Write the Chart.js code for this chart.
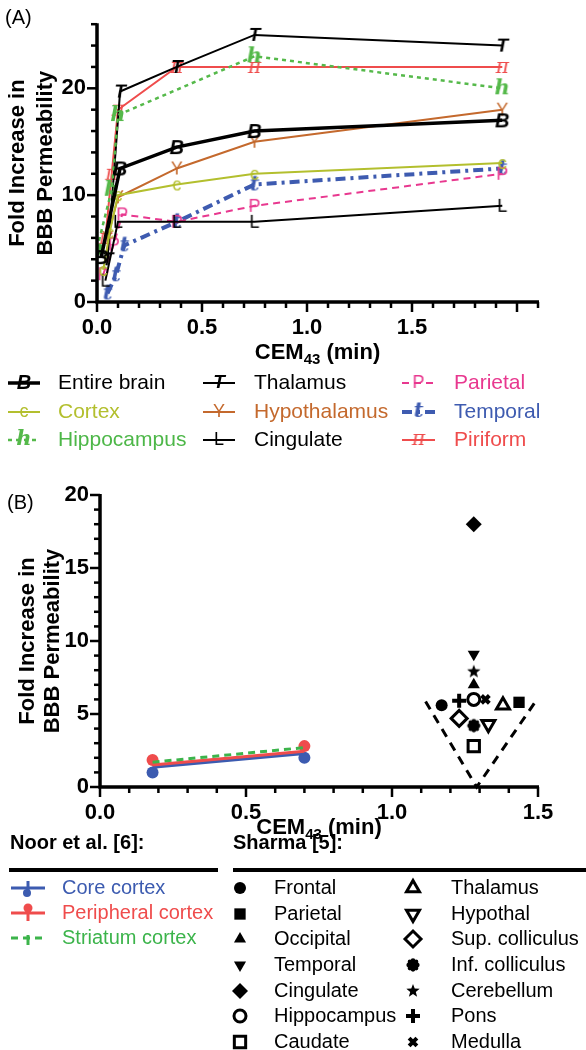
<!DOCTYPE html>
<html>
<head>
<meta charset="utf-8">
<script src="https://cdn.jsdelivr.net/npm/chart.js@4.4.1/dist/chart.umd.min.js"></script>
<style>
  html, body { margin: 0; padding: 0; background: #fff; }
  #wrap { position: relative; width: 586px; height: 1050px; overflow: hidden; }
  #wrap canvas { position: absolute; left: 0; top: 0; }
</style>
</head>
<body>
<div id="wrap">
  <canvas id="chartA" width="586" height="1050"></canvas>
  <canvas id="chartB" width="586" height="1050"></canvas>
</div>
<script>
// ---------- Panel (A) data: fold increase vs CEM43 (min) ----------
const brainX = [0.02, 0.11, 0.38, 0.75, 1.93];
const brainY = [4.2, 12.5, 14.5, 16, 17];
const cortexX = [0.03, 0.06, 0.1, 0.38, 0.75, 1.93];
const cortexY = [3, 6.5, 10, 11, 12, 13];
const hippoX = [0.0, 0.07, 0.1, 0.75, 1.93];
const hippoY = [5, 10.5, 17.5, 23, 20];
const thalX = [0.05, 0.11, 0.38, 0.75, 1.93];
const thalY = [4, 19.7, 22, 25, 24];
const hypoX = [0.05, 0.1, 0.38, 0.75, 1.93];
const hypoY = [6, 9.8, 12.5, 15, 18];
const cingX = [0.04, 0.1, 0.38, 0.75, 1.93];
const cingY = [2, 7.5, 7.5, 7.5, 9];
const parX = [0.03, 0.08, 0.12, 0.38, 0.75, 1.93];
const parY = [2.6, 5.4, 8.2, 7.5, 9, 12];
const tempX = [0.05, 0.09, 0.13, 0.38, 0.75, 1.93];
const tempY = [0.8, 2.5, 5.3, 7.5, 11, 12.5];
const pirX = [0.04, 0.07, 0.1, 0.38, 0.75, 1.93];
const pirY = [6, 12, 18, 22, 22, 22];

// ---------- Panel (B) data ----------
const noorLabels = ["Core cortex", "Peripheral cortex", "Striatum cortex"];
const noorX = [0.18, 0.7];
const coreY = [1.35, 2.3];
const periY = [1.5, 2.45];
const striY = [1.7, 2.7];
const coreLow = [1.0, 2.0];    // lower error bar ends
const periHigh = [1.85, 2.8];  // upper error bar ends

const sharmaLabels = ["Frontal", "Parietal", "Occipital", "Temporal", "Cingulate", "Hippocampus", "Caudate",
  "Thalamus", "Hypothal", "Sup. colliculus", "Inf. colliculus", "Cerebellum", "Pons", "Medulla"];
const sharmaX = [1.17, 1.435, 1.28, 1.28, 1.28, 1.28, 1.28, 1.38, 1.33, 1.23, 1.28, 1.28, 1.23, 1.32];
const sharmaY = [5.6, 5.8, 7.0, 9.1, 18, 6.0, 2.8, 5.6, 4.3, 4.7, 4.2, 7.9, 5.9, 6.0];

const vLineX = [1.115, 1.29, 1.5];
const vLineY = [5.85, 0, 6.1];

const FONT = '"Liberation Sans", Arial, sans-serif';

// small canvas with a letter, used as a point marker
function glyph(ch, color, font) {
  const c = document.createElement("canvas");
  c.width = 26; c.height = 26;
  const g = c.getContext("2d");
  g.fillStyle = color;
  g.font = font;
  g.textAlign = "center";
  g.textBaseline = "middle";
  g.fillText(ch, 13, 14);
  return c;
}

function pts(xs, ys) {
  return xs.map((x, i) => ({ x: x, y: ys[i] }));
}

const seriesA = [
  { label: "Entire brain", x: brainX, y: brainY, color: "#000", text: "#000", width: 3.5, dash: [], ch: "B", font: "italic bold 20px " + FONT },
  { label: "Cortex", x: cortexX, y: cortexY, color: "#b3bf2e", text: "#b3bf2e", width: 2, dash: [], ch: "c", font: "18px " + FONT },
  { label: "Hippocampus", x: hippoX, y: hippoY, color: "#55b94a", text: "#4db748", width: 2.5, dash: [4, 4], ch: "h", font: "italic bold 21px 'DejaVu Serif'" },
  { label: "Thalamus", x: thalX, y: thalY, color: "#000", text: "#000", width: 2, dash: [], ch: "T", font: "italic bold 19px " + FONT },
  { label: "Hypothalamus", x: hypoX, y: hypoY, color: "#c4692d", text: "#c4692d", width: 2, dash: [], ch: "Y", font: "18px " + FONT },
  { label: "Cingulate", x: cingX, y: cingY, color: "#000", text: "#000", width: 2, dash: [], ch: "L", font: "18px " + FONT },
  { label: "Parietal", x: parX, y: parY, color: "#e8388f", text: "#e8388f", width: 2, dash: [7, 5], ch: "P", font: "18px " + FONT },
  { label: "Temporal", x: tempX, y: tempY, color: "#3e5bb0", text: "#3e5bb0", width: 4, dash: [10, 5, 3, 5], ch: "t", font: "italic bold 21px 'DejaVu Serif'" },
  { label: "Piriform", x: pirX, y: pirY, color: "#ef4c4c", text: "#ef4c4c", width: 2, dash: [], ch: "\u03c0", font: "italic 20px 'DejaVu Serif'" }
];
seriesA.forEach(s => { s.img = glyph(s.ch, s.color, s.font); });

// draws axis lines and major/minor tick marks from the chart's scales
function drawAxes(chart, xStep, xMajor, yStep, yMajor) {
  const ctx = chart.ctx, a = chart.chartArea, xs = chart.scales.x, ys = chart.scales.y;
  ctx.save();
  ctx.strokeStyle = "#000";
  ctx.lineWidth = 2.5;
  const nx = Math.round((xs.max - xs.min) / xStep);
  for (let i = 0; i <= nx; i++) {
    const v = xs.min + i * xStep;
    const major = Math.abs(v / xMajor - Math.round(v / xMajor)) < 1e-6;
    const px = xs.getPixelForValue(v);
    ctx.beginPath(); ctx.moveTo(px, a.bottom); ctx.lineTo(px, a.bottom + (major ? 10 : 6)); ctx.stroke();
  }
  const ny = Math.round((ys.max - ys.min) / yStep);
  for (let i = 0; i <= ny; i++) {
    const v = ys.min + i * yStep;
    const major = Math.abs(v / yMajor - Math.round(v / yMajor)) < 1e-6;
    const py = ys.getPixelForValue(v);
    ctx.beginPath(); ctx.moveTo(a.left, py); ctx.lineTo(a.left - (major ? 10 : 6), py); ctx.stroke();
  }
  ctx.lineWidth = 3.5;
  ctx.beginPath();
  ctx.moveTo(a.left, a.top - 1);
  ctx.lineTo(a.left, a.bottom);
  ctx.lineTo(a.right + 1, a.bottom);
  ctx.stroke();
  ctx.restore();
}

function drawYTitle(ctx, x1, x2, cy) {
  ctx.save();
  ctx.fillStyle = "#000";
  ctx.font = "bold 22px " + FONT;
  ctx.textAlign = "center";
  ctx.textBaseline = "middle";
  [["Fold Increase in", x1], ["BBB Permeability", x2]].forEach(([t, x]) => {
    ctx.save(); ctx.translate(x, cy); ctx.rotate(-Math.PI / 2); ctx.fillText(t, 0, 0); ctx.restore();
  });
  ctx.restore();
}

function drawCem(ctx, cx, cy) {
  const big = "bold 22px " + FONT, small = "bold 15px " + FONT;
  ctx.save();
  ctx.fillStyle = "#000";
  ctx.textAlign = "left";
  ctx.textBaseline = "alphabetic";
  ctx.font = big;
  const w1 = ctx.measureText("CEM").width, w3 = ctx.measureText(" (min)").width;
  ctx.font = small;
  const w2 = ctx.measureText("43").width;
  const x0 = cx - (w1 + w2 + w3) / 2;
  ctx.font = big; ctx.fillText("CEM", x0, cy + 8);
  ctx.font = small; ctx.fillText("43", x0 + w1, cy + 13);
  ctx.font = big; ctx.fillText(" (min)", x0 + w1 + w2, cy + 8);
  ctx.restore();
}

const tickFont = { family: FONT, size: 22, weight: "bold" };

// ---------- Chart A ----------
const panelA = {
  id: "panelA",
  afterDraw(chart) {
    const ctx = chart.ctx;
    drawAxes(chart, 0.1, 0.5, 2, 10);
    drawYTitle(ctx, 18, 46, (chart.chartArea.top + chart.chartArea.bottom) / 2);
    drawCem(ctx, (chart.chartArea.left + chart.chartArea.right) / 2, 351);
    ctx.save();
    ctx.fillStyle = "#000";
    ctx.font = "20px " + FONT;
    ctx.textBaseline = "middle";
    ctx.fillText("(A)", 5, 18);
    // legend
    const cols = [{ m0: 8, m1: 40, t: 58 }, { m0: 203, m1: 235, t: 254 }, { m0: 402, m1: 435, t: 454 }];
    const rows = [383, 412, 440];
    ctx.font = "21px " + FONT;
    seriesA.forEach((s, i) => {
      const c = cols[Math.floor(i / 3)], y = rows[i % 3];
      ctx.strokeStyle = s.color;
      ctx.lineWidth = s.width;
      ctx.setLineDash(s.dash);
      ctx.beginPath(); ctx.moveTo(c.m0, y); ctx.lineTo(c.m1, y); ctx.stroke();
      ctx.setLineDash([]);
      ctx.drawImage(s.img, (c.m0 + c.m1) / 2 - 13, y - 14);
      ctx.fillStyle = s.text;
      ctx.fillText(s.label, c.t, y);
    });
    ctx.restore();
  }
};

new Chart(document.getElementById("chartA"), {
  type: "line",
  data: {
    datasets: seriesA.map(s => ({
      label: s.label,
      data: pts(s.x, s.y),
      borderColor: s.color,
      borderWidth: s.width,
      borderDash: s.dash,
      pointStyle: s.img,
      pointRadius: 4,
      fill: false,
      tension: 0
    }))
  },
  options: {
    responsive: false,
    animation: false,
    devicePixelRatio: 1,
    layout: { padding: { left: 0, right: 48, top: 5, bottom: 1050 - 302 - 40 } },
    plugins: { legend: { display: false }, tooltip: { enabled: false } },
    scales: {
      x: {
        type: "linear", min: 0, max: 2.1,
        grid: { display: false, drawTicks: false }, border: { display: false },
        ticks: { stepSize: 0.5, padding: 13, color: "#000", font: tickFont, maxRotation: 0,
          callback: v => (Math.abs(v * 2 - Math.round(v * 2)) < 1e-6 ? v.toFixed(1) : null) },
        afterFit: s => { s.height = 40; }
      },
      y: {
        min: 0, max: 26,
        grid: { display: false, drawTicks: false }, border: { display: false },
        ticks: { stepSize: 10, padding: 11, color: "#000", font: tickFont,
          callback: v => (v % 10 === 0 ? v : null) },
        afterFit: s => { s.width = 97; }
      }
    }
  },
  plugins: [panelA]
});

// ---------- Chart B ----------
function star(r, color) {
  const c = document.createElement("canvas");
  c.width = 2 * r + 2; c.height = 2 * r + 2;
  const g = c.getContext("2d");
  g.fillStyle = color;
  g.beginPath();
  for (let i = 0; i < 10; i++) {
    const rr = i % 2 ? r * 0.42 : r;
    const ang = -Math.PI / 2 + i * Math.PI / 5;
    g.lineTo(r + 1 + rr * Math.cos(ang), r + 1 + rr * Math.sin(ang));
  }
  g.closePath(); g.fill();
  return c;
}
function blob(r, color) {
  const c = document.createElement("canvas");
  c.width = 2 * r + 4; c.height = 2 * r + 4;
  const g = c.getContext("2d");
  g.fillStyle = color;
  const m = r + 2;
  g.beginPath(); g.arc(m, m, r * 0.7, 0, Math.PI * 2); g.fill();
  for (let i = 0; i < 8; i++) {
    const ang = i * Math.PI / 4;
    g.beginPath(); g.arc(m + r * 0.62 * Math.cos(ang), m + r * 0.62 * Math.sin(ang), r * 0.33, 0, Math.PI * 2); g.fill();
  }
  return c;
}

// marker styles for the Sharma regions, in the same order as sharmaLabels
const sharmaStyles = [
  { ps: "circle", r: 6, fill: "#000", bw: 0 },
  { ps: "rect", r: 8, fill: "#000", bw: 0 },
  { ps: "triangle", r: 7, fill: "#000", bw: 0 },
  { ps: "triangle", r: 7, fill: "#000", bw: 0, rot: 180 },
  { ps: "rectRot", r: 8, fill: "#000", bw: 0 },
  { ps: "circle", r: 6, fill: "#fff", bw: 3 },
  { ps: "rect", r: 8, fill: "#fff", bw: 3 },
  { ps: "triangle", r: 7.5, fill: "#fff", bw: 3 },
  { ps: "triangle", r: 7.5, fill: "#fff", bw: 3, rot: 180 },
  { ps: "rectRot", r: 8, fill: "#fff", bw: 3 },
  { ps: blob(7, "#000"), r: 7, fill: "#000", bw: 0 },
  { ps: star(7, "#000"), r: 7, fill: "#000", bw: 0 },
  { ps: "cross", r: 7, fill: "#000", bw: 4 },
  { ps: "crossRot", r: 5.5, fill: "#000", bw: 4 }
];

const noorColors = ["#3c5bb0", "#ef4c4c", "#3cb44b"];

const panelB = {
  id: "panelB",
  beforeDatasetsDraw(chart) {
    // error bars for the Noor et al. data
    const ctx = chart.ctx, xs = chart.scales.x, ys = chart.scales.y;
    ctx.save();
    ctx.lineWidth = 3;
    noorX.forEach((x, i) => {
      const px = xs.getPixelForValue(x);
      [[coreY, coreLow, noorColors[0]], [periY, periHigh, noorColors[1]]].forEach(([mid, end, col]) => {
        ctx.strokeStyle = col; ctx.fillStyle = col;
        ctx.beginPath(); ctx.moveTo(px, ys.getPixelForValue(mid[i])); ctx.lineTo(px, ys.getPixelForValue(end[i])); ctx.stroke();
        ctx.beginPath(); ctx.arc(px, ys.getPixelForValue(end[i]), 6, 0, Math.PI * 2); ctx.fill();
      });
    });
    ctx.restore();
  },
  afterDraw(chart) {
    const ctx = chart.ctx;
    drawAxes(chart, 0.1, 0.5, 1, 5);
    drawYTitle(ctx, 28, 53, (chart.chartArea.top + chart.chartArea.bottom) / 2);
    drawCem(ctx, (chart.chartArea.left + chart.chartArea.right) / 2, 826);
    ctx.save();
    ctx.fillStyle = "#000";
    ctx.textBaseline = "middle";
    ctx.font = "20px " + FONT;
    ctx.fillText("(B)", 7, 503);
    // legend headers
    ctx.font = "bold 20px " + FONT;
    ctx.fillText("Noor et al. [6]:", 10, 843);
    ctx.fillText("Sharma [5]:", 233, 843);
    ctx.fillRect(9, 868, 209, 4);
    ctx.fillRect(233, 868, 353, 4);
    // Noor entries
    const nRows = [888, 913, 938];
    ctx.font = "20px " + FONT;
    noorLabels.forEach((lab, i) => {
      const y = nRows[i], col = noorColors[i];
      ctx.strokeStyle = col; ctx.fillStyle = col; ctx.lineWidth = 3;
      ctx.setLineDash(i === 2 ? [7, 5] : []);
      ctx.beginPath(); ctx.moveTo(11, y); ctx.lineTo(45, y); ctx.stroke();
      ctx.setLineDash([]);
      ctx.beginPath();
      if (i === 0) { ctx.moveTo(28, y - 7); ctx.lineTo(28, y + 4); ctx.stroke(); ctx.beginPath(); ctx.arc(27, y + 5, 4, 0, Math.PI * 2); ctx.fill(); }
      if (i === 1) { ctx.moveTo(28, y - 4); ctx.lineTo(28, y + 8); ctx.stroke(); ctx.beginPath(); ctx.arc(28, y - 5, 4.5, 0, Math.PI * 2); ctx.fill(); }
      if (i === 2) { ctx.moveTo(28, y - 3); ctx.lineTo(28, y + 7); ctx.stroke(); }
      ctx.fillText(lab, 62, y);
    });
    // Sharma entries
    const sRows = [888, 914, 939, 965, 991, 1016, 1042];
    sharmaLabels.forEach((lab, i) => {
      const st = sharmaStyles[i];
      const mx = i < 7 ? 240 : 413, tx = i < 7 ? 274 : 451, y = sRows[i % 7];
      ctx.fillStyle = st.fill; ctx.strokeStyle = "#000"; ctx.lineWidth = st.bw;
      Chart.helpers.drawPoint(ctx, { pointStyle: st.ps, radius: st.r, rotation: st.rot || 0, borderWidth: st.bw }, mx, y);
      ctx.fillStyle = "#000";
      ctx.fillText(lab, tx, y);
    });
    ctx.restore();
  }
};

const datasetsB = [
  { type: "line", data: pts(noorX, striY), borderColor: noorColors[2], borderWidth: 3, borderDash: [7, 5], pointRadius: 0 },
  { type: "line", data: pts(noorX, periY), borderColor: noorColors[1], borderWidth: 3, pointRadius: 0 },
  { type: "line", data: pts(noorX, coreY), borderColor: noorColors[0], borderWidth: 3, pointRadius: 0 },
  { type: "line", data: pts(vLineX, vLineY), borderColor: "#000", borderWidth: 3, borderDash: [9, 7], pointRadius: 0, clip: false }
];
sharmaLabels.forEach((lab, i) => {
  const st = sharmaStyles[i];
  datasetsB.push({
    type: "scatter",
    label: lab,
    data: [{ x: sharmaX[i], y: sharmaY[i] }],
    pointStyle: st.ps,
    pointRadius: st.r,
    pointRotation: st.rot || 0,
    pointBackgroundColor: st.fill,
    pointBorderColor: "#000",
    pointBorderWidth: st.bw
  });
});

new Chart(document.getElementById("chartB"), {
  type: "scatter",
  data: { datasets: datasetsB },
  options: {
    responsive: false,
    animation: false,
    devicePixelRatio: 1,
    layout: { padding: { left: 0, right: 48, top: 495, bottom: 1050 - 787 - 40 } },
    plugins: { legend: { display: false }, tooltip: { enabled: false } },
    scales: {
      x: {
        type: "linear", min: 0, max: 1.5,
        grid: { display: false, drawTicks: false }, border: { display: false },
        ticks: { stepSize: 0.5, padding: 13, color: "#000", font: tickFont, maxRotation: 0,
          callback: v => v.toFixed(1) },
        afterFit: s => { s.height = 40; }
      },
      y: {
        min: 0, max: 20,
        grid: { display: false, drawTicks: false }, border: { display: false },
        ticks: { stepSize: 5, padding: 11, color: "#000", font: tickFont },
        afterFit: s => { s.width = 100; }
      }
    }
  },
  plugins: [panelB]
});
</script>
</body>
</html>
